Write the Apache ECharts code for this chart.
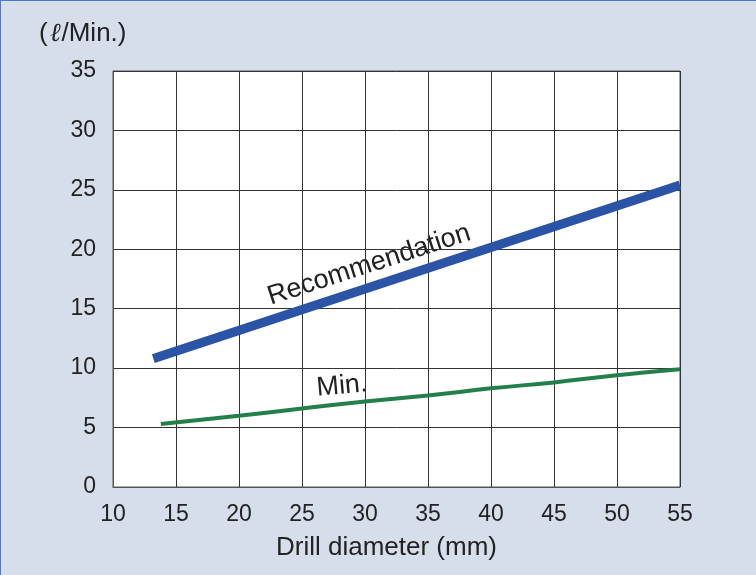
<!DOCTYPE html>
<html><head><meta charset="utf-8">
<script src="https://cdn.jsdelivr.net/npm/echarts@6/dist/echarts.min.js"></script>
<style>html,body{margin:0;padding:0;background:#d6ddeb;}#c{width:756px;height:575px;box-sizing:border-box;border-left:1px solid #4a78c8;border-top:1px solid #4a78c8;}</style>
</head><body><div id="c"></div>
<script>
const recX = [13.2, 55];
const recY = [10.8, 25.4];
const minX = [13.8, 20, 25, 30, 35, 40, 45, 50, 55];
const minY = [5.3, 6.0, 6.6, 7.2, 7.7, 8.3, 8.8, 9.4, 9.9];
const xTicks = [10, 15, 20, 25, 30, 35, 40, 45, 50, 55];
const yTicks = [0, 5, 10, 15, 20, 25, 30, 35];
const yUnitParts = ['(', 'ℓ', '/Min.)'];
const xTitle = 'Drill diameter (mm)';
const recLabel = 'Recommendation';
const minLabel = 'Min.';

const chart = echarts.init(document.getElementById('c'));
const font = 'Liberation Sans, Arial, sans-serif';
chart.setOption({
  backgroundColor: '#d6ddeb',
  animation: false,
  grid: {left: 112, right: 76, top: 70, bottom: 88, show: true, backgroundColor: '#ffffff', borderColor: '#555', borderWidth: 1},
  title: {text: yUnitParts[0] + '{i|' + yUnitParts[1] + '}' + yUnitParts[2], left: 33, top: 15,
    textStyle: {fontFamily: font, fontSize: 26, fontWeight: 'normal', color: '#222',
      rich: {i: {fontFamily: 'DejaVu Serif', fontStyle: 'italic', fontSize: 26, color: '#222', padding: [0, 1, 0, 2]}}}},
  xAxis: {type: 'value', min: 10, max: 55, interval: 5,
    name: xTitle, nameLocation: 'middle', nameGap: 48,
    nameTextStyle: {fontFamily: font, fontSize: 26, color: '#222', padding: [0, 20, 0, 0]},
    axisLine: {show: true, lineStyle: {color: '#555'}}, axisTick: {show: false},
    axisLabel: {fontFamily: font, fontSize: 23, color: '#222', margin: 16, formatter: v => xTicks.includes(v) ? String(v) : ''},
    splitLine: {show: true, lineStyle: {color: '#333', width: 1}}},
  yAxis: {type: 'value', min: 0, max: 35, interval: 5,
    axisLine: {show: true, lineStyle: {color: '#555'}}, axisTick: {show: false},
    axisLabel: {fontFamily: font, fontSize: 23, color: '#222', margin: 17, formatter: v => yTicks.includes(v) ? String(v) : ''},
    splitLine: {show: true, lineStyle: {color: '#333', width: 1}}},
  series: [
    {type: 'line', data: recX.map((x, i) => [x, recY[i]]), showSymbol: false, lineStyle: {color: '#2b54a6', width: 9, cap: 'butt'}},
    {type: 'line', smooth: true, data: minX.map((x, i) => [x, minY[i]]), showSymbol: false, lineStyle: {color: '#23804a', width: 4, cap: 'butt'}}
  ],
  graphic: [
    {type: 'text', x: 368, y: 264, rotation: 18 * Math.PI / 180, style: {text: recLabel, fontFamily: font, fontSize: 27, fill: '#222', align: 'center', verticalAlign: 'middle'}},
    {type: 'text', x: 341, y: 385, rotation: 5 * Math.PI / 180, style: {text: minLabel, fontFamily: font, fontSize: 27, fill: '#222', align: 'center', verticalAlign: 'middle'}}
  ]
});
</script></body></html>
